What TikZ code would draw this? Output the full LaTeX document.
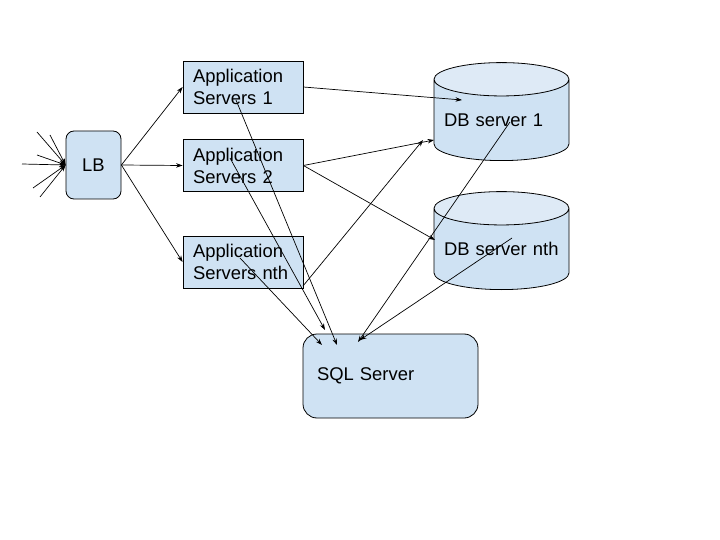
\documentclass[tikz,border=0pt]{standalone}
\usepackage{fontspec}
\setmainfont{Liberation Sans}
\usepackage{xcolor}
\usetikzlibrary{positioning,shapes.geometric,arrows.meta}

\definecolor{boxblue}{HTML}{CFE2F3}
\definecolor{topblue}{HTML}{DEEAF6}

\tikzset{
    txt/.style={font=\fontsize{18.4}{22}\selectfont},
    appbox/.style={txt,draw,fill=boxblue,minimum width=120,minimum height=52,text width=100,align=left,inner sep=0pt},
    dbbox/.style={txt,cylinder,shape border rotate=90,draw,aspect=0.29,minimum width=135,minimum height=98,
        cylinder uses custom fill,cylinder body fill=boxblue,cylinder end fill=topblue,text width=115,align=left,inner sep=0pt},
    rbox/.style={txt,draw,fill=boxblue,rounded corners=#1,inner sep=0pt},
    link/.style={->,line width=0.7pt}
}

\begin{document}
\begin{tikzpicture}[x=1pt,y=-1pt,>={Stealth[length=6.5pt,width=4.5pt]},line width=0.8pt]
    \useasboundingbox (0,0) rectangle (720,540);

    \node[rbox=8,minimum width=55,minimum height=68] (lb) at (93.5,165) {LB};
    \node[appbox] (app1) at (243,87) {Application\\Servers 1};
    \node[appbox] (app2) at (243,165.5) {Application\\Servers 2};
    \node[appbox] (appn) at (243,262) {Application\\Servers nth};
    \node[dbbox,anchor=south] (db1) at (501.5,161) {DB server 1};
    \node[dbbox,anchor=south] (dbn) at (501.5,290) {DB server nth};
    \node[rbox=14,minimum width=175,minimum height=84,text width=147,align=left] (sql) at (390.5,376) {SQL Server};

    % incoming requests
    \foreach \x/\y [count=\i] in {37/132,50/135,37/155,22/164,33/188,40/197} {
        \coordinate (in\i) at (\x,\y);
        \draw[link] (in\i) -- (lb.west);
    }

    % load balancer to app servers
    \draw[link] (lb.east) -- (app1.west);
    \draw[link] (lb.east) -- (app2.west);
    \draw[link] (lb.east) -- (appn.west);

    % app servers to db servers
    \draw[link] (app1.east) -- ([shift={(-39.5,-61)}]db1.south);
    \draw[link] (app2.east) -- ([shift={(-67.5,-21)}]db1.south);
    \draw[link] (app2.east) -- ([shift={(-66.5,-50)}]dbn.south);
    \draw[link] ([shift={(60,24)}]appn.center) -- ([shift={(-78.5,-21)}]db1.south);

    % everything to sql server
    \draw[link] ([shift={(-7,13)}]app1.center) -- ([shift={(-53.5,-31)}]sql.center);
    \draw[link] ([shift={(-13,-7.5)}]app2.center) -- ([shift={(-65.5,-46)}]sql.center);
    \draw[link] ([shift={(-3,-4)}]appn.center) -- ([shift={(-68.5,-31)}]sql.center);
    \draw[link] ([shift={(8.5,-39)}]db1.south) -- ([shift={(-32.5,-34)}]sql.center);
    \draw[link] ([shift={(10.5,-52)}]dbn.south) -- ([shift={(-30.5,-36)}]sql.center);
\end{tikzpicture}
\end{document}
